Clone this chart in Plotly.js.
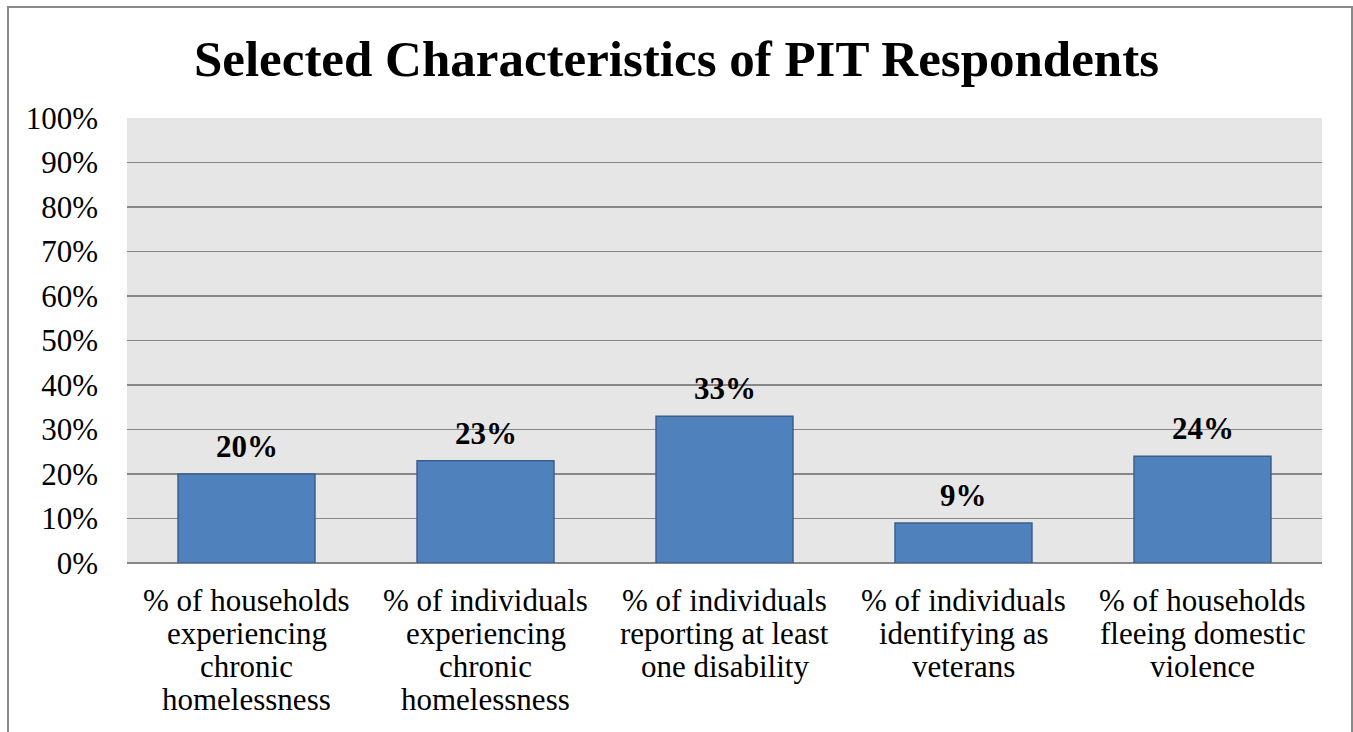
<!DOCTYPE html>
<html>
<head>
<meta charset="utf-8">
<script src="https://cdn.plot.ly/plotly-3.0.1.min.js"></script>
<style>
  html, body { margin: 0; padding: 0; background: #ffffff; }
  #wrap { position: relative; width: 1353px; height: 732px; overflow: hidden; }
  #chart { position: absolute; left: 0; top: 0; width: 1353px; height: 732px; }
  #frame { position: absolute; left: 7px; top: 6px; width: 1342px; height: 760px;
           border: 2px solid #898989; border-bottom: none; pointer-events: none; }
</style>
</head>
<body>
<div id="wrap">
  <div id="chart"></div>
  <div id="frame"></div>
</div>
<script>
const categories = [
  "% of households<br>experiencing<br>chronic<br>homelessness",
  "% of individuals<br>experiencing<br>chronic<br>homelessness",
  "% of individuals<br>reporting at least<br>one disability",
  "% of individuals<br>identifying as<br>veterans",
  "% of households<br>fleeing domestic<br>violence"
];
const values = [0.20, 0.23, 0.33, 0.09, 0.24];
const valueLabels = ["20%", "23%", "33%", "9%", "24%"];
const yTickVals = [0, 0.1, 0.2, 0.3, 0.4, 0.5, 0.6, 0.7, 0.8, 0.9, 1.0];
const yTickText = ["0%", "10%", "20%", "30%", "40%", "50%", "60%", "70%", "80%", "90%", "100%"];

const FONT = "Liberation Serif";
const xIdx = categories.map((c, i) => i);

const trace = {
  type: "bar",
  x: xIdx,
  y: values,
  marker: { color: "#4f81bd", line: { color: "#3a5f8e", width: 1.5 } },
  hoverinfo: "skip"
};

const annotations = [];
values.forEach((v, i) => {
  annotations.push({
    x: i, y: v, xref: "x", yref: "y",
    text: "<b>" + valueLabels[i] + "</b>",
    showarrow: false, yanchor: "bottom", yshift: 8,
    font: { family: FONT, size: 31, color: "#000000" }
  });
});
categories.forEach((c, i) => {
  c.split("<br>").forEach((line, j) => {
    annotations.push({
      x: i, y: 0, xref: "x", yref: "y",
      text: line, showarrow: false, yanchor: "middle",
      yshift: -(37 + j * 33),
      font: { family: FONT, size: 31, color: "#000000" }
    });
  });
});

const layout = {
  width: 1353, height: 732,
  margin: { l: 127, r: 31, t: 118, b: 169, pad: 0 },
  paper_bgcolor: "#ffffff",
  plot_bgcolor: "#e6e6e6",
  showlegend: false,
  bargap: 0.427,
  font: { family: FONT, color: "#000000" },
  title: {
    text: "<b>Selected Characteristics of PIT Respondents</b>",
    font: { family: FONT, size: 51, color: "#000000" },
    x: 0.5, xanchor: "center", xref: "container",
    y: 1 - 58 / 732, yanchor: "middle", yref: "container"
  },
  xaxis: {
    type: "linear", range: [-0.5, 4.5],
    showticklabels: false, showgrid: false, zeroline: false, showline: false,
    ticks: ""
  },
  yaxis: {
    range: [0, 1.0], tickvals: yTickVals, ticktext: yTickText,
    showgrid: true, gridcolor: "#878787", gridwidth: 1.5,
    zeroline: true, zerolinecolor: "#878787", zerolinewidth: 1.5,
    showline: false, ticks: "", ticklabelstandoff: 28,
    tickfont: { family: FONT, size: 31, color: "#000000" }
  },
  annotations: annotations
};

Plotly.newPlot("chart", [trace], layout, { displayModeBar: false, staticPlot: true });
</script>
</body>
</html>
